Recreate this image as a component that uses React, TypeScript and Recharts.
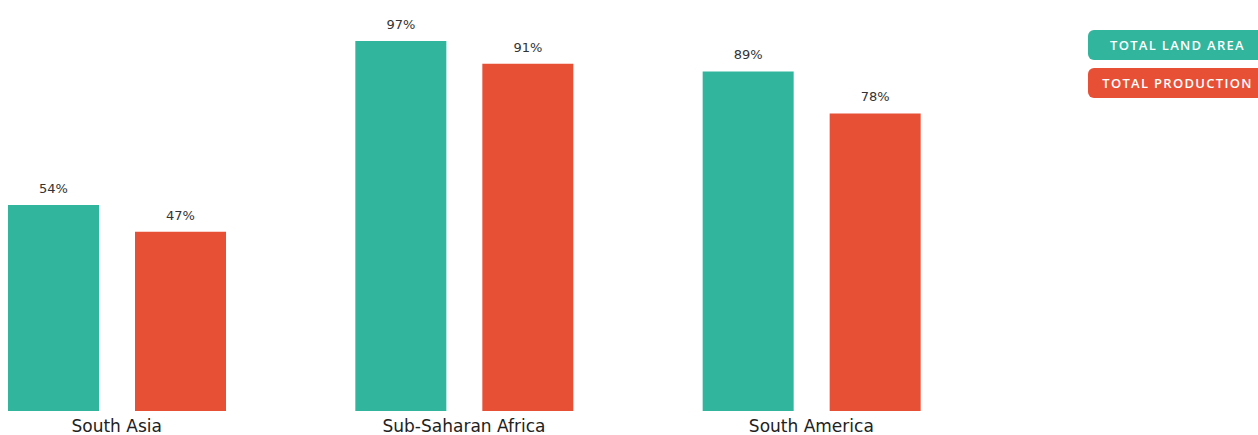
import React from 'react';
import { BarChart, Bar, XAxis, YAxis, LabelList, Legend } from 'recharts';

const regions = ['South Asia', 'Sub-Saharan Africa', 'South America'];
const landArea = [54, 97, 89];
const production = [47, 91, 78];
const seriesNames = ['Total land area', 'Total production'];
const colors = ['#31B59D', '#E85036'];

const data = regions.map((r, i) => ({ region: r, land: landArea[i], production: production[i] }));

const FONT = '"DejaVu Sans", sans-serif';

const renderLegend = (props: any) => {
  const items = props.payload || [];
  return (
    <div style={{ display: 'flex', flexDirection: 'column', gap: 8 }}>
      {items.map((it: any) => (
        <div
          key={it.value}
          style={{
            width: 179,
            height: 30,
            borderRadius: 6,
            background: it.color,
            color: '#fff',
            display: 'flex',
            alignItems: 'center',
            justifyContent: 'center',
            fontFamily: '"Open Sans", sans-serif',
            fontSize: 13,
            fontWeight: 600,
            letterSpacing: 1.3,
            textTransform: 'uppercase',
            whiteSpace: 'nowrap',
          }}
        >
          {it.value}
        </div>
      ))}
    </div>
  );
};

export default function App() {
  return (
    <div style={{ width: 1258, height: 435, overflow: 'hidden', position: 'relative' }}>
      <style>{`body{margin:0;}`}</style>
      <BarChart
        width={1258}
        height={435}
        data={data}
        margin={{ top: 29.5, right: 273, bottom: 0, left: -57 }}
        barSize={91}
        barGap={36}
        style={{ fontFamily: FONT }}
      >
        <XAxis
          dataKey="region"
          axisLine={false}
          tickLine={false}
          height={24}
          tickMargin={2.5}
          interval={0}
          tick={{ fill: '#222', fontSize: 17, fontFamily: FONT }}
        />
        <YAxis hide domain={[0, 100]} />
        <Legend
          content={renderLegend}
          layout="vertical"
          align="center"
          verticalAlign="middle"
          wrapperStyle={{ position: 'absolute', top: 30, left: 1088, width: 179 }}
        />
        <Bar dataKey="land" name={seriesNames[0]} fill={colors[0]} isAnimationActive={false}>
          <LabelList
            dataKey="land"
            position="top"
            offset={12}
            formatter={(v: any) => `${v}%`}
            style={{ fill: '#333', fontSize: 13, fontFamily: FONT }}
          />
        </Bar>
        <Bar dataKey="production" name={seriesNames[1]} fill={colors[1]} isAnimationActive={false}>
          <LabelList
            dataKey="production"
            position="top"
            offset={12}
            formatter={(v: any) => `${v}%`}
            style={{ fill: '#333', fontSize: 13, fontFamily: FONT }}
          />
        </Bar>
      </BarChart>
    </div>
  );
}
